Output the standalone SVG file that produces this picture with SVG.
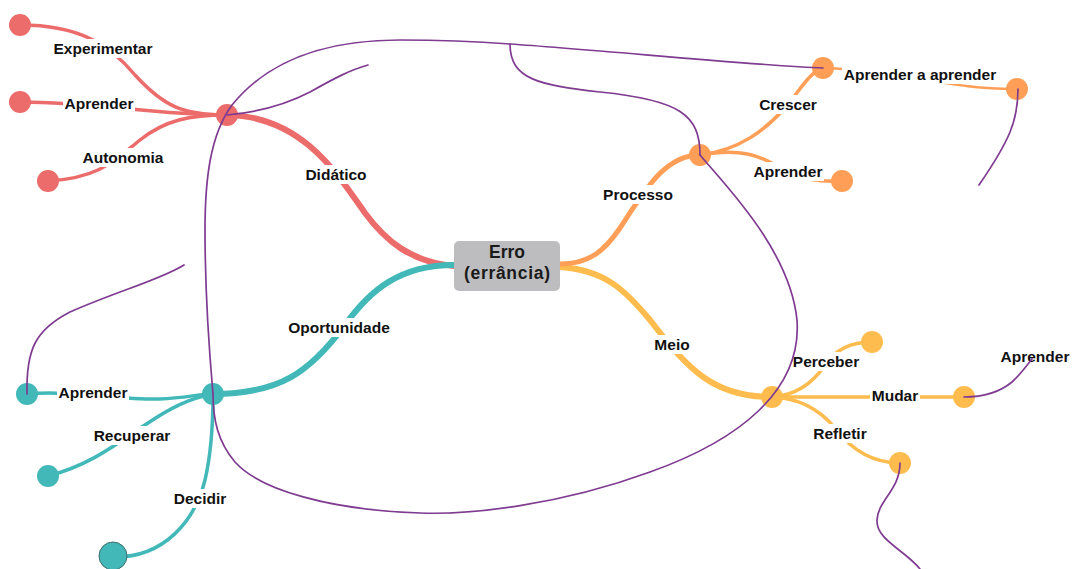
<svg xmlns="http://www.w3.org/2000/svg" width="1072" height="569" viewBox="0 0 1072 569">
<style>
.b{fill:none;stroke-linecap:round}
.red{stroke:#EC6B6B}
.teal{stroke:#42B9B8}
.org{stroke:#FF9F57}
.yel{stroke:#FFBC4E}
.main{stroke-width:6}
.sub{stroke-width:3.5}
.rel{fill:none;stroke:#7E3B90;stroke-width:1.7;stroke-linecap:round}
.lb{fill:#fff}
.t{font-family:"Liberation Sans",Arial,sans-serif;font-weight:bold;font-size:15.5px;fill:#111;text-anchor:middle}
.c{font-family:"Liberation Sans",Arial,sans-serif;font-weight:bold;font-size:17.5px;fill:#1a1a1a;text-anchor:middle}
.nr{fill:#EC6B6B}.nt{fill:#42B9B8}.no{fill:#FF9F57}.ny{fill:#FFBC4E}
</style>
<rect width="1072" height="569" fill="#fff"/>
<g id="connectors">
<path class="b red main" d="M454,266 C410,262 385,240 365,213 C335,170 300,116 227,115"/>
<path class="b teal main" d="M454,265 C400,265 370,290 345,325 C310,372 280,394 213,394"/>
<path class="b yel main" d="M560,267 C605,270 625,290 650,320 C690,372 715,397 772,397"/>
<path class="b org" stroke-width="5" d="M560,264 C590,264 605,250 620,228 C645,190 665,155 700,155"/>
<path class="b red sub" d="M20,25 C80,25 110,45 135,75 C165,108 185,115 227,115"/>
<path class="b red sub" d="M20,102 C100,102 150,115 227,115"/>
<path class="b red sub" d="M48,181 C100,178 115,160 140,140 C165,120 190,115 227,115"/>
<path class="b teal sub" d="M27,394 C70,390 120,400 160,399 C185,398 200,394 213,394"/>
<path class="b teal sub" d="M48,476 C90,465 115,445 145,425 C170,408 190,398 213,394"/>
<path class="b teal sub" d="M113,557 C165,558 195,520 205,480 C212,450 213,420 213,394"/>
<path class="b org sub" d="M700,155 C740,150 765,130 785,108 C800,90 810,72 823,68"/>
<path class="b org sub" d="M700,155 C740,148 760,155 780,168 C800,180 820,182 842,181"/>
<path class="b org" stroke-width="2.5" d="M823,68 C900,70 950,90 1018,89"/>
<path class="b yel sub" d="M772,397 C800,395 815,380 825,365 C835,350 850,342 872,342"/>
<path class="b yel sub" d="M772,397 L964,397"/>
<path class="b yel sub" d="M772,397 C800,398 820,410 835,428 C850,448 870,463 900,463"/>
</g>
<g id="center">
<rect x="454" y="241" width="106" height="50" rx="5" fill="#BDBDBF"/>
<text class="c" x="507" y="258">Erro</text>
<text class="c" x="507" y="279" textLength="86">(errância)</text>
</g>
<g id="didatico"><circle class="nr" cx="227" cy="115" r="11"/><rect class="lb" x="303" y="165" width="67" height="19"/><text class="t" x="336" y="180">Didático</text></g>
<g id="experimentar"><circle class="nr" cx="20" cy="25" r="11"/><rect class="lb" x="51" y="39" width="104" height="19"/><text class="t" x="103" y="54">Experimentar</text></g>
<g id="aprender-red"><circle class="nr" cx="20" cy="102" r="11"/><rect class="lb" x="63" y="94" width="72" height="19"/><text class="t" x="99" y="109">Aprender</text></g>
<g id="autonomia"><circle class="nr" cx="48" cy="181" r="11"/><rect class="lb" x="81" y="148" width="84" height="19"/><text class="t" x="123" y="163">Autonomia</text></g>
<g id="oportunidade"><circle class="nt" cx="213" cy="394" r="11"/><rect class="lb" x="286" y="318" width="106" height="19"/><text class="t" x="339" y="333">Oportunidade</text></g>
<g id="aprender-teal"><circle class="nt" cx="27" cy="394" r="11"/><rect class="lb" x="57" y="383" width="72" height="19"/><text class="t" x="93" y="398">Aprender</text></g>
<g id="recuperar"><circle class="nt" cx="48" cy="476" r="11"/><rect class="lb" x="91" y="426" width="81" height="19"/><text class="t" x="132" y="441">Recuperar</text></g>
<g id="decidir"><circle class="nt" cx="113" cy="556" r="14" stroke="#3F6D6D" stroke-width="1"/><rect class="lb" x="171" y="489" width="58" height="19"/><text class="t" x="200" y="504">Decidir</text></g>
<g id="processo"><circle class="no" cx="700" cy="155" r="11"/><rect class="lb" x="602" y="185" width="72" height="19"/><text class="t" x="638" y="200">Processo</text></g>
<g id="crescer"><circle class="no" cx="823" cy="68" r="11"/><rect class="lb" x="758" y="95" width="60" height="19"/><text class="t" x="788" y="110">Crescer</text></g>
<g id="aprender-orange"><circle class="no" cx="842" cy="181" r="11"/><rect class="lb" x="752" y="162" width="72" height="19"/><text class="t" x="788" y="177">Aprender</text></g>
<g id="aprender-a-aprender"><circle class="no" cx="1017" cy="89" r="11"/><rect class="lb" x="842" y="65" width="157" height="19"/><text class="t" x="920" y="80">Aprender a aprender</text></g>
<g id="meio"><circle class="ny" cx="772" cy="397" r="11"/><rect class="lb" x="653" y="335" width="38" height="19"/><text class="t" x="672" y="350">Meio</text></g>
<g id="perceber"><circle class="ny" cx="872" cy="342" r="11"/><rect class="lb" x="792" y="352" width="68" height="19"/><text class="t" x="826" y="367">Perceber</text></g>
<g id="mudar"><circle class="ny" cx="964" cy="397" r="11"/><rect class="lb" x="870" y="386" width="50" height="19"/><text class="t" x="895" y="401">Mudar</text></g>
<g id="refletir"><circle class="ny" cx="900" cy="463" r="11"/><rect class="lb" x="812" y="424" width="57" height="19"/><text class="t" x="840" y="439">Refletir</text></g>
<g id="aprender-right"><text class="t" x="1035" y="362">Aprender</text></g>
<g id="relations">
<path class="rel" d="M823,68 C760,66 600,50 510,44 C470,41 430,40 400,40 C330,40 270,58 232,105 C210,135 205,180 205,230 C205,300 210,360 213,394"/>
<path class="rel" d="M510,44 C510,80 540,85 600,92 C680,100 700,115 700,155"/>
<path class="rel" d="M700,155 C725,185 790,250 797,320 C802,390 740,440 650,472 C560,505 470,515 420,513 C330,510 260,490 235,462 C218,442 213,420 213,394"/>
<path class="rel" d="M227,115 C260,112 285,105 310,92 C335,78 350,70 368,65"/>
<path class="rel" d="M27,394 C26,350 35,330 70,312 C120,290 160,280 184,265"/>
<path class="rel" d="M1018,89 C1018,120 1010,140 979,185"/>
<path class="rel" d="M964,397 C985,397 1000,392 1012,382 C1020,375 1027,365 1032,359"/>
<path class="rel" d="M900,463 C900,490 878,500 877,520 C876,540 905,550 920,569"/>
</g>
</svg>
